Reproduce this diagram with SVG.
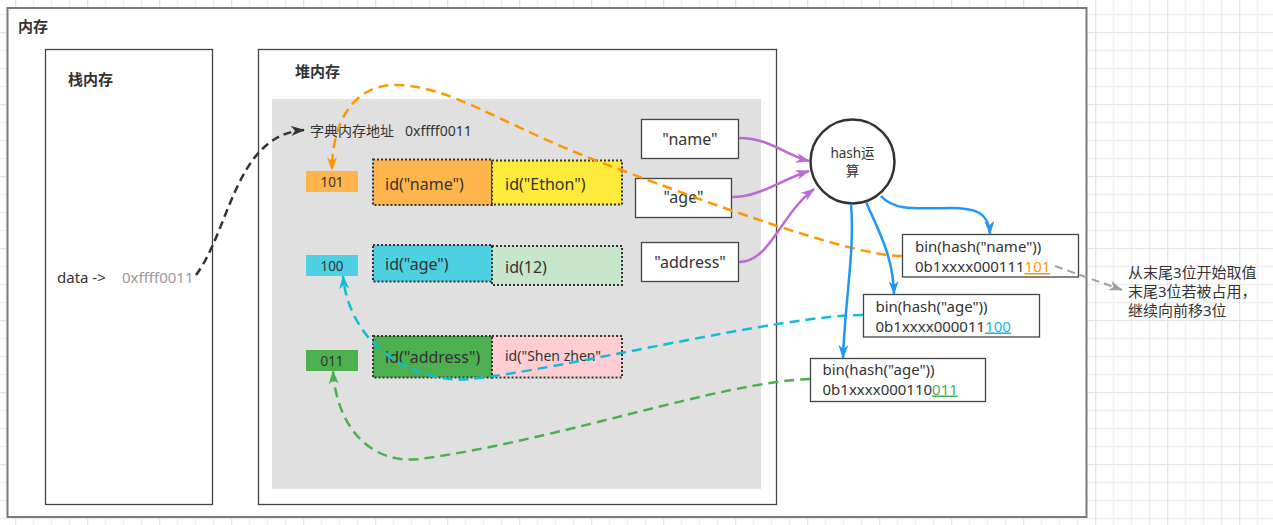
<svg xmlns="http://www.w3.org/2000/svg" width="1273" height="525" viewBox="0 0 1273 525">
<style>
text{font-family:"Noto Sans","Noto Sans CJK SC",sans-serif;fill:#333}
.t16{font-size:16px}
.tb{font-size:15px}
.t15{font-size:15px}
.t14{font-size:14px}
.t13{font-size:13.5px}
.b{font-weight:bold}
.mid{text-anchor:middle}
.box{fill:#fff;stroke:#444;stroke-width:1.3}
.dot{stroke:#333;stroke-width:2;stroke-dasharray:2 2}
.conn{fill:none}
.dash{stroke-dasharray:10 6;stroke-width:2.5}
.u{text-decoration:underline}
</style>
<defs>
<pattern id="grid" patternUnits="userSpaceOnUse" x="15" y="32" width="72" height="72">
<path d="M18.5 0V72M36.5 0V72M54.5 0V72M0 18.5H72M0 36.5H72M0 54.5H72" stroke="#f0f0f0" stroke-width="1.5" fill="none"/>
<path d="M0.5 0V72M0 0.5H72" stroke="#e4e4e4" stroke-width="1.5" fill="none"/>
</pattern>
<marker id="aK" viewBox="0 0 14 10" markerUnits="userSpaceOnUse" markerWidth="14" markerHeight="10" refX="13" refY="5" orient="auto"><path d="M0 0L14 5L0 10L4 5Z" fill="#333"/></marker>
<marker id="aO" viewBox="0 0 14 10" markerUnits="userSpaceOnUse" markerWidth="14" markerHeight="10" refX="13" refY="5" orient="auto"><path d="M0 0L14 5L0 10L4 5Z" fill="#ff9800"/></marker>
<marker id="aC" viewBox="0 0 14 10" markerUnits="userSpaceOnUse" markerWidth="14" markerHeight="10" refX="13" refY="5" orient="auto"><path d="M0 0L14 5L0 10L4 5Z" fill="#13bcd6"/></marker>
<marker id="aG" viewBox="0 0 14 10" markerUnits="userSpaceOnUse" markerWidth="14" markerHeight="10" refX="13" refY="5" orient="auto"><path d="M0 0L14 5L0 10L4 5Z" fill="#4caf50"/></marker>
<marker id="aB" viewBox="0 0 14 10" markerUnits="userSpaceOnUse" markerWidth="14" markerHeight="10" refX="13" refY="5" orient="auto"><path d="M0 0L14 5L0 10L4 5Z" fill="#2196f3"/></marker>
<marker id="aP" viewBox="0 0 14 10" markerUnits="userSpaceOnUse" markerWidth="14" markerHeight="10" refX="13" refY="5" orient="auto"><path d="M0 0L14 5L0 10L4 5Z" fill="#bb6bd2"/></marker>
<marker id="aY" viewBox="0 0 14 10" markerUnits="userSpaceOnUse" markerWidth="14" markerHeight="10" refX="13" refY="5" orient="auto"><path d="M0 0L14 5L0 10L4 5Z" fill="#a0a0a0"/></marker>
</defs>
<rect x="0" y="0" width="1273" height="525" fill="#fff"/>
<rect x="0" y="0" width="1273" height="525" fill="url(#grid)"/>

<g id="memory">
<rect x="7.5" y="8" width="1079" height="509" fill="#fff" stroke="#7a7a7a" stroke-width="2"/>
<text x="18" y="32" class="t15 b">内存</text>
</g>
<g id="stack">
<rect x="45.5" y="49.5" width="167" height="455" class="box"/>
<text x="68" y="85" class="t15 b">栈内存</text>
<text x="57" y="283" class="t15">data -&gt;</text>
<text x="122" y="283" class="t15" style="fill:#999">0xffff0011</text>
</g>
<g id="heap">
<rect x="258.5" y="49.5" width="518" height="455" class="box"/>
<text x="295" y="77" class="t15 b">堆内存</text>
<rect x="272" y="99" width="489" height="390" fill="#e0e0e0"/>
<text x="310" y="136" class="t14">字典内存地址</text>
<text x="405" y="136" class="t14">0xffff0011</text>
</g>
<g id="slot101">
<rect x="306" y="171" width="52" height="21" fill="#ffb54c"/>
<text x="332" y="186.5" class="t13 mid">101</text>
</g>
<g id="slot100">
<rect x="306" y="255" width="52" height="21" fill="#4dd0e1"/>
<text x="332" y="271" class="t13 mid">100</text>
</g>
<g id="slot011">
<rect x="306" y="350" width="52" height="21" fill="#4caf50"/>
<text x="332" y="366" class="t13 mid">011</text>
</g>
<g id="idName">
<rect x="373" y="159.5" width="119" height="45.5" fill="#ffb54c" class="dot"/>
<text x="385" y="190" class="t16">id("name")</text>
</g>
<g id="idEthon">
<rect x="492" y="160.5" width="130" height="44" fill="#ffeb3b" class="dot"/>
<text x="505" y="190" class="t16">id("Ethon")</text>
</g>
<g id="idAge">
<rect x="373" y="245" width="119" height="36.5" fill="#4dd0e1" class="dot"/>
<text x="385" y="270" class="t16">id("age")</text>
</g>
<g id="id12">
<rect x="492" y="246" width="130" height="39" fill="#c8e6c9" class="dot"/>
<text x="505" y="272.5" class="t16">id(12)</text>
</g>
<g id="idAddress">
<rect x="373" y="336" width="119" height="41.5" fill="#4caf50" class="dot"/>
<text x="385" y="362.5" class="t16">id("address")</text>
</g>
<g id="idShenzhen">
<rect x="492" y="336" width="130" height="41.5" fill="#ffcdd2" class="dot"/>
<text x="505" y="360.5" class="t14">id("Shen zhen"</text>
</g>
<g id="keyName">
<rect x="641.5" y="119.5" width="97" height="39" class="box"/>
<text x="690" y="145" class="t16 mid">"name"</text>
</g>
<g id="keyAge">
<rect x="635.5" y="178.5" width="96" height="39" class="box"/>
<text x="683.5" y="203" class="t16 mid">"age"</text>
</g>
<g id="keyAddress">
<rect x="641.5" y="242.5" width="97" height="39" class="box"/>
<text x="690" y="268" class="t16 mid">"address"</text>
</g>
<g id="hash">
<circle cx="852.5" cy="161.5" r="42" fill="#fff" stroke="#333" stroke-width="2.5"/>
<text x="852.5" y="158" class="t13 mid">hash运</text>
<text x="852.5" y="176" class="t13 mid">算</text>
</g>
<g id="binName">
<rect x="902.5" y="234.5" width="176" height="42.5" class="box"/>
<text x="915" y="251.5" class="tb">bin(hash("name"))</text>
<text x="915" y="272" class="tb">0b1xxxx000111<tspan class="u" style="fill:#ff9800">101</tspan></text>
</g>
<g id="binAge">
<rect x="863.5" y="294.5" width="176" height="42.5" class="box"/>
<text x="875.5" y="311.5" class="tb">bin(hash("age"))</text>
<text x="875.5" y="331.5" class="tb">0b1xxxx000011<tspan class="u" style="fill:#13bcd6">100</tspan></text>
</g>
<g id="binAddress">
<rect x="810.5" y="358.5" width="175" height="43" class="box"/>
<text x="822.5" y="374.5" class="tb">bin(hash("age"))</text>
<text x="822.5" y="394.5" class="tb">0b1xxxx000110<tspan class="u" style="fill:#4caf50">011</tspan></text>
</g>
<g id="note">
<text x="1128" y="278" class="t15">从末尾3位开始取值</text>
<text x="1128" y="297" class="t15">末尾3位若被占用，</text>
<text x="1128" y="316" class="t15">继续向前移3位</text>
</g>

<g id="connectors" class="conn">
<path d="M196 275C230 230 235 135 304 130" stroke="#333" stroke-width="2.5" stroke-dasharray="8 5" marker-end="url(#aK)"/>
<path d="M902 256C850 256 700 200 600 162C500 124 450 85 395 85C355 85 332 120 332 170" stroke="#ff9800" class="dash" marker-end="url(#aO)"/>
<path d="M863 315C780 315 560 370 470 379C420 384 350 350 343 276" stroke="#13bcd6" class="dash" marker-end="url(#aC)"/>
<path d="M810 379C720 382 560 440 420 459C365 465 336 420 333 371" stroke="#4caf50" class="dash" marker-end="url(#aG)"/>
<path d="M739 138C770 138 785 155 809 161" stroke="#bb6bd2" stroke-width="2.5" marker-end="url(#aP)"/>
<path d="M732 197C760 197 780 180 809 171" stroke="#bb6bd2" stroke-width="2.5" marker-end="url(#aP)"/>
<path d="M739 262C770 262 780 215 814 189" stroke="#bb6bd2" stroke-width="2.5" marker-end="url(#aP)"/>
<path d="M881 196C895 212 920 208 950 208C975 208 989 212 990 234" stroke="#2196f3" stroke-width="2.5" marker-end="url(#aB)"/>
<path d="M866 202C878 230 893 255 894 294" stroke="#2196f3" stroke-width="2.5" marker-end="url(#aB)"/>
<path d="M851 204C855 250 845 300 843 358" stroke="#2196f3" stroke-width="2.5" marker-end="url(#aB)"/>
<path d="M1055 266L1122 290" stroke="#a0a0a0" stroke-width="2" stroke-dasharray="8 5" marker-end="url(#aY)"/>
</g>
</svg>
